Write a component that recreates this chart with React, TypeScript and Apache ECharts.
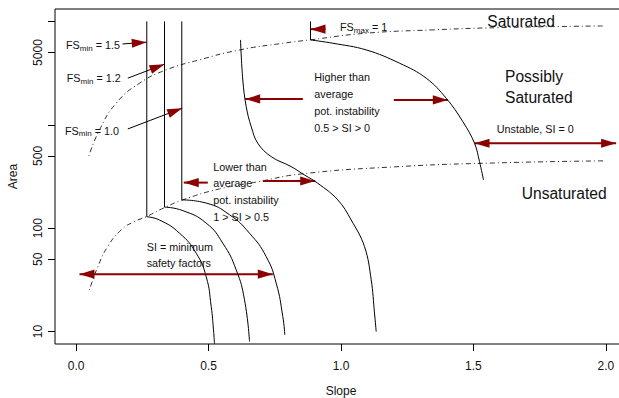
import React, { useEffect, useRef } from 'react';
import * as echarts from 'echarts';

// ---- axes ----
const slopeTicks = [0, 0.5, 1, 1.5, 2];
const areaTickMarks = [10, 50, 100, 500, 1000, 5000, 10000];
const areaTickLabels = [10, 50, 100, 500, 5000];

// ---- FS_min vertical lines (slope, area) ----
const fs15Line = [[0.2666, 10000], [0.2666, 129]];
const fs12Line = [[0.3335, 10000], [0.3335, 160]];
const fs10Line = [[0.3988, 10000], [0.3988, 188]];
const fsMaxLine = [[0.8848, 10000], [0.8848, 6620]];

// ---- SI = minimum safety factor arcs ----
const arc15 = [[0.2666, 129], [0.3146, 120], [0.3901, 89.5], [0.4532, 57.3], [0.4909, 34.0], [0.5098, 17.5], [0.5185, 10.4], [0.5223, 7.6]];
const arc12 = [[0.3335, 160], [0.4026, 148], [0.4909, 112], [0.5536, 71.6], [0.6042, 39.5], [0.6356, 20.3], [0.6545, 8.0]];
const arc10 = [[0.3988, 188], [0.4909, 175], [0.5789, 135], [0.6544, 89.5], [0.7175, 53.1], [0.7553, 29.4], [0.7802, 14.0], [0.7878, 9.3]];

// ---- SI = 0.5 and SI = 0 boundaries ----
const si05Curve = [[0.6205, 6620], [0.6292, 2716], [0.6420, 1500], [0.6609, 961], [0.6858, 663], [0.7364, 492], [0.8119, 394], [0.8622, 327], [0.9124, 272], [0.9879, 188], [1.0385, 120], [1.0887, 66.4], [1.1141, 31.6], [1.1265, 15.1], [1.1329, 10]];
const si0Curve = [[0.8848, 6620], [0.9690, 6150], [1.0952, 5300], [1.2209, 3945], [1.3218, 2825], [1.3973, 1807], [1.4600, 1074], [1.5042, 663], [1.5230, 441], [1.5381, 293]];

// ---- saturation lines ----
const saturatedLine = [[0.048, 500], [0.088, 893], [0.151, 1618], [0.239, 2523], [0.340, 3396], [0.465, 4246], [0.617, 5300], [0.782, 6150], [0.881, 6620], [1.095, 7690], [1.347, 8280], [1.599, 8710], [1.995, 9040]];
const unsaturatedLine = [[0.050, 25.3], [0.082, 42.6], [0.119, 66.4], [0.170, 96.3], [0.220, 116], [0.264, 129], [0.333, 158], [0.403, 188], [0.541, 240], [0.685, 281], [0.851, 335], [1.202, 392], [1.587, 428], [1.995, 448]];

// ---- arrows: x1, y1, x2 (tip), y2 (tip), bothHeads, blackShaft ----
const pointerArrows = [
  [0.1749, 6053, 0.2666, 6295, 0, 1],
  [0.1949, 2825, 0.3335, 3855, 0, 1],
  [0.1949, 912, 0.4003, 1449, 0, 1],
];
const zoneArrows = [
  [0.8558, 1778, 0.6382, 1778, 0, 0],
  [1.1994, 1741, 1.4033, 1741, 0, 0],
  [1.5042, 663, 2.039, 663, 1, 0],
  [0.4970, 276, 0.4063, 276, 0, 0],
  [0.7047, 286, 0.9026, 286, 0, 0],
  [0.0125, 35.9, 0.7425, 35.9, 1, 0],
  [0.9415, 8410, 0.8848, 8410, 0, 0],
];

const FONT = '"Liberation Sans", Arial, Helvetica, sans-serif';
const TXT = '#111';
const DARKRED = '#8B0000';

function curve(data: number[][], dashed = false, smooth: number | boolean = 0.5) {
  return {
    type: 'line',
    data,
    showSymbol: false,
    symbol: 'none',
    silent: true,
    smooth,
    clip: true,
    lineStyle: dashed
      ? { color: '#333', width: 1, type: [1, 3, 5, 3] }
      : { color: '#000', width: 1 },
  };
}

function headPoints(tip: number[], from: number[]) {
  const dx = tip[0] - from[0];
  const dy = tip[1] - from[1];
  const len = Math.sqrt(dx * dx + dy * dy) || 1;
  const ux = dx / len, uy = dy / len;
  const L = 15, W = 4.6;
  const bx = tip[0] - ux * L, by = tip[1] - uy * L;
  return [[tip[0], tip[1]], [bx - uy * W, by + ux * W], [bx + uy * W, by - ux * W]];
}

function arrowSeries(data: number[][]) {
  return {
    type: 'custom',
    silent: true,
    dimensions: ['x1', 'y1', 'x2', 'y2', 'both', 'black'],
    encode: { x: ['x1', 'x2'], y: ['y1', 'y2'] },
    data,
    renderItem: (params: any, api: any) => {
      const p1 = api.coord([api.value(0), api.value(1)]);
      const p2 = api.coord([api.value(2), api.value(3)]);
      const both = api.value(4) === 1;
      const black = api.value(5) === 1;
      const children: any[] = [
        {
          type: 'line',
          shape: { x1: p1[0], y1: p1[1], x2: p2[0], y2: p2[1] },
          style: { stroke: black ? '#000' : DARKRED, lineWidth: black ? 1 : 2 },
        },
        { type: 'polygon', shape: { points: headPoints(p2, p1) }, style: { fill: DARKRED } },
      ];
      if (both) {
        children.push({ type: 'polygon', shape: { points: headPoints(p1, p2) }, style: { fill: DARKRED } });
      }
      return { type: 'group', children };
    },
  };
}

function txt(text: string, x: number, y: number, size: number, va = 'middle', lineHeight?: number) {
  return {
    type: 'text',
    x,
    y,
    silent: true,
    style: {
      text,
      font: `${size}px ${FONT}`,
      fill: TXT,
      align: 'left',
      verticalAlign: va,
      lineHeight: lineHeight ?? Math.round(size * 1.2),
    },
  };
}

// "FS" + subscript + rest ; widths from Arial metrics
function subLabel(sub: string, rest: string, x: number, y: number) {
  const mainSize = 10.8;
  const subSize = 8;
  const fsW = (0.611 + 0.667) * mainSize;
  const subW = sub === 'min' ? (0.833 + 0.222 + 0.556) * subSize : (0.833 + 0.556 + 0.5) * subSize;
  return [
    txt('FS', x, y, mainSize),
    txt(sub, x + fsW, y + 3.2, subSize),
    txt(rest, x + fsW + subW, y, mainSize),
  ];
}

export default function App() {
  const ref = useRef<HTMLDivElement>(null);
  useEffect(() => {
    const chart = echarts.init(ref.current!, null, { renderer: 'svg' });
    const option: any = {
      animation: false,
      grid: {
        left: 55,
        top: 9,
        width: 572,
        height: 335,
        outerBoundsMode: 'none',
        containLabel: false,
        show: true,
        borderColor: '#000',
        borderWidth: 1,
        backgroundColor: 'transparent',
      },
      xAxis: {
        type: 'value',
        min: -0.08,
        max: 2.08,
        name: 'Slope',
        nameLocation: 'middle',
        nameGap: 41,
        nameTextStyle: { fontSize: 12, fontFamily: FONT, color: TXT },
        axisLine: { show: false, onZero: false },
        splitLine: { show: false },
        axisTick: { show: true, customValues: slopeTicks, length: 7, lineStyle: { color: '#000' } },
        axisLabel: {
          customValues: slopeTicks,
          formatter: (v: number) => v.toFixed(1),
          margin: 16,
          fontSize: 12,
          fontFamily: FONT,
          color: TXT,
        },
      },
      yAxis: {
        type: 'log',
        logBase: 10,
        min: 7.586,
        max: 13183,
        name: 'Area',
        nameLocation: 'middle',
        nameRotate: 90,
        nameGap: 36,
        nameTextStyle: { fontSize: 12, fontFamily: FONT, color: TXT },
        axisLine: { show: false, onZero: false },
        splitLine: { show: false },
        minorTick: { show: false },
        axisTick: { show: true, customValues: areaTickMarks, length: 7, lineStyle: { color: '#000' } },
        axisLabel: {
          customValues: areaTickLabels,
          rotate: 90,
          margin: 11,
          formatter: (v: number) => String(Math.round(v)),
          fontSize: 12,
          fontFamily: FONT,
          color: TXT,
        },
      },
      series: [
        curve(saturatedLine, true),
        curve(unsaturatedLine, true),
        curve(fs15Line, false, false),
        curve(fs12Line, false, false),
        curve(fs10Line, false, false),
        curve(fsMaxLine, false, false),
        curve(arc15),
        curve(arc12),
        curve(arc10),
        curve(si05Curve, false, 0.4),
        curve(si0Curve, false, 0.4),
        arrowSeries(pointerArrows),
        arrowSeries(zoneArrows),
      ],
      graphic: [
        ...subLabel('min', ' = 1.5', 66, 45),
        ...subLabel('min', ' = 1.2', 66.7, 78.3),
        ...subLabel('min', ' = 1.0', 65, 130.7),
        ...subLabel('max', ' = 1', 340, 27.3),
        txt('Saturated', 487.3, 12.3, 15.6, 'top'),
        txt('Possibly\nSaturated', 505, 66.2, 15.6, 'top', 21),
        txt('Unsaturated', 521.7, 183.9, 15.6, 'top'),
        txt('Higher than\naverage\npot. instability\n0.5 > SI > 0', 314.3, 68.8, 10.8, 'top', 17),
        txt('Unstable, SI = 0', 496.7, 122.8, 10.8, 'top', 13),
        txt('Lower than\naverage\npot. instability\n1 > SI > 0.5', 213.3, 158.4, 10.8, 'top', 16.7),
        txt('SI = minimum\nsafety factors', 146.7, 239.6, 10.8, 'top', 15.4),
      ],
    };
    chart.setOption(option);
    return () => chart.dispose();
  }, []);
  return (
    <div style={{ position: 'fixed', left: 0, top: 0, width: 619, height: 398, overflow: 'hidden', background: '#fff' }}>
      <div ref={ref} style={{ width: 619, height: 398 }} />
    </div>
  );
}
